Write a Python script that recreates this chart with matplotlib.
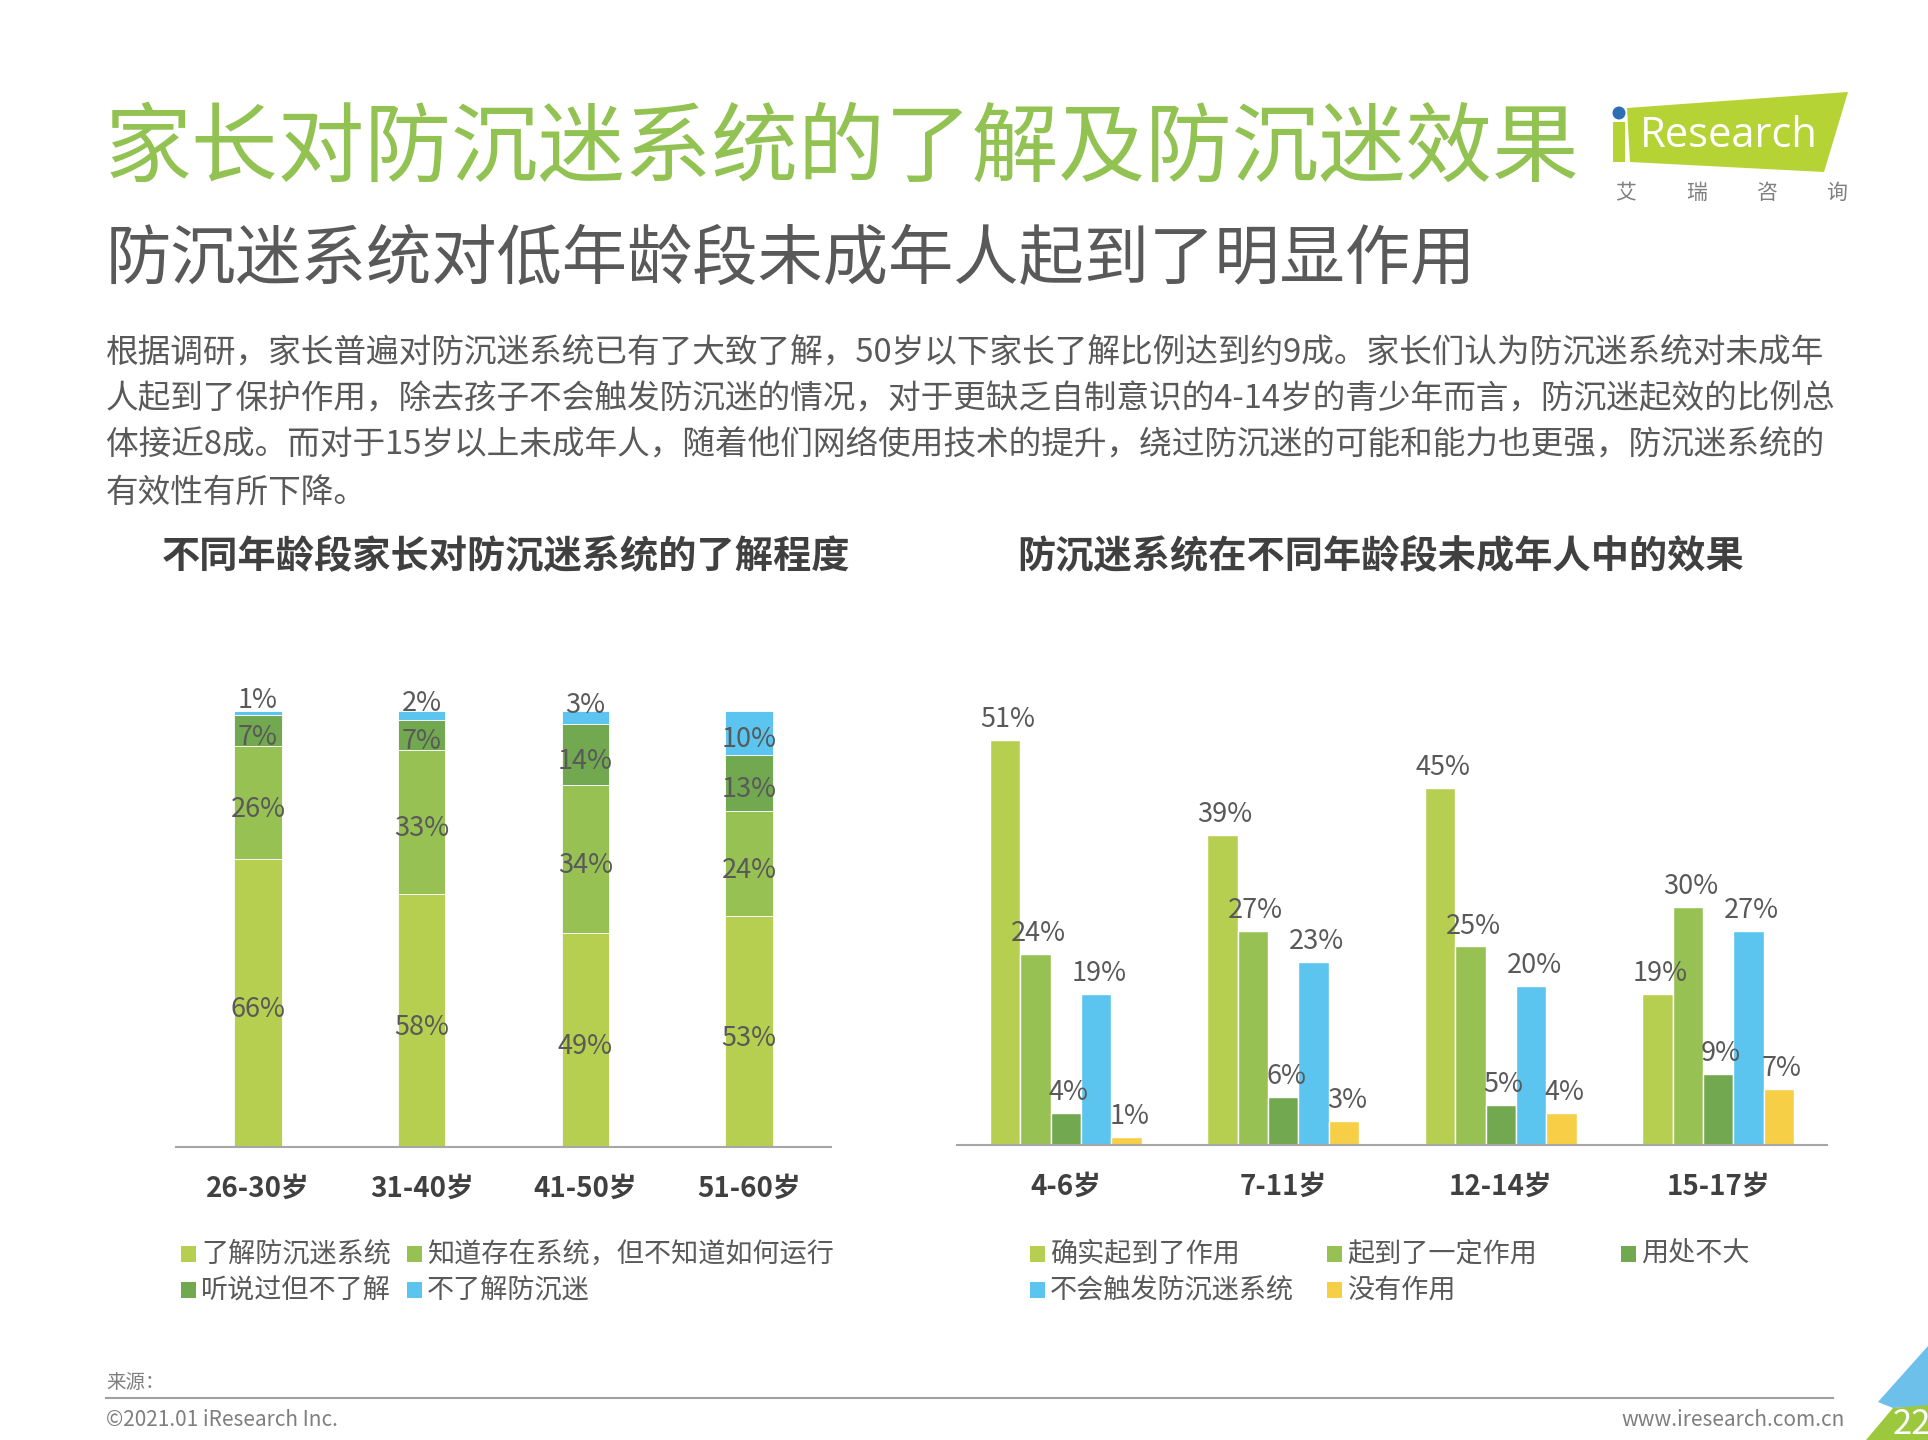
import matplotlib
matplotlib.use('Agg')
import matplotlib.pyplot as plt
import numpy as np
from matplotlib.patches import Polygon, Rectangle, Ellipse
from matplotlib.lines import Line2D

plt.rcParams['font.family'] = ['Noto Sans CJK SC', 'DejaVu Sans']

# ---- data ----
parent_groups = ['26-30岁', '31-40岁', '41-50岁', '51-60岁']
know_well = [66, 58, 49, 53]
know_exists = [26, 33, 34, 24]
heard_only = [7, 7, 14, 13]
not_know = [1, 2, 3, 10]
parent_series = ['了解防沉迷系统', '知道存在系统，但不知道如何运行', '听说过但不了解', '不了解防沉迷']

kid_groups = ['4-6岁', '7-11岁', '12-14岁', '15-17岁']
effective = [51, 39, 45, 19]
some_effect = [24, 27, 25, 30]
little_use = [4, 6, 5, 9]
not_triggered = [19, 23, 20, 27]
no_effect = [1, 3, 4, 7]
kid_series = ['确实起到了作用', '起到了一定作用', '用处不大', '不会触发防沉迷系统', '没有作用']

c_light = '#B7CF50'
c_mid = '#98C154'
c_dark = '#72A850'
c_blue = '#5BC5EF'
c_yellow = '#F7CF46'
txt = '#595959'

W, H = 1928, 1440
fig = plt.figure(figsize=(W / 100, H / 100), dpi=100)


def fx(x):
    return x / W


def fy(y):
    return 1 - y / H


# ---- header ----
fig.text(fx(105), fy(150), '家长对防沉迷系统的了解及防沉迷效果', fontsize=62.5,
         color='#92C352', va='center', ha='left')
fig.text(fx(106), fy(261), '防沉迷系统对低年龄段未成年人起到了明显作用', fontsize=47,
         color=txt, va='center', ha='left')

para = ['根据调研，家长普遍对防沉迷系统已有了大致了解，50岁以下家长了解比例达到约9成。家长们认为防沉迷系统对未成年',
        '人起到了保护作用，除去孩子不会触发防沉迷的情况，对于更缺乏自制意识的4-14岁的青少年而言，防沉迷起效的比例总',
        '体接近8成。而对于15岁以上未成年人，随着他们网络使用技术的提升，绕过防沉迷的可能和能力也更强，防沉迷系统的',
        '有效性有所下降。']
for i, line in enumerate(para):
    fig.text(fx(106), fy(353 + i * 46.5), line, fontsize=23.5, color=txt, va='center', ha='left')

# logo
fig.add_artist(Polygon([(fx(1627), fy(108)), (fx(1848), fy(92)), (fx(1824), fy(172)), (fx(1630), fy(162))],
                       closed=True, transform=fig.transFigure, facecolor='#B5D334', edgecolor='none'))
fig.add_artist(Rectangle((fx(1613), fy(162)), fx(12), 40 / H, transform=fig.transFigure,
                         facecolor='#B5D334', edgecolor='none'))
fig.add_artist(Ellipse((fx(1619), fy(113)), 13 / W, 13 / H, transform=fig.transFigure,
                       facecolor='#2F6DB5', edgecolor='none'))
fig.text(fx(1640), fy(136), 'Research', fontsize=30, color='white', family='Open Sans',
         va='center', ha='left')
for ch, x in zip('艾瑞咨询', [1626, 1697, 1767, 1837]):
    fig.text(fx(x), fy(193), ch, fontsize=15, color='#808080', ha='center', va='center')

# ---- left chart: stacked ----
ax1 = fig.add_axes([fx(176), fy(1147), (831 - 176) / W, (1147 - 711) / H])
x = np.arange(len(parent_groups))
bw = 0.29
bottom = np.zeros(len(x))
for vals, col in zip([know_well, know_exists, heard_only, not_know], [c_light, c_mid, c_dark, c_blue]):
    vals = np.array(vals)
    ax1.bar(x, vals, bw, bottom=bottom, color=col, edgecolor='white', linewidth=0.6)
    for xi, b, v in zip(x, bottom, vals):
        if v < 5:
            yy = b + v / 2 + 2.8
        else:
            yy = b + v / 2 - 1.5
        ax1.text(xi, yy, f'{v}%', ha='center', va='center', fontsize=19.5, color=txt)
    bottom = bottom + vals
ax1.set_xlim(-0.5, 3.5)
ax1.set_ylim(0, 100)

# ---- right chart: grouped ----
ax2 = fig.add_axes([fx(957), fy(1145), (1827 - 957) / W, 405 * 55 / 51 / H])
gw = 0.14
kid_vals = [effective, some_effect, little_use, not_triggered, no_effect]
kid_cols = [c_light, c_mid, c_dark, c_blue, c_yellow]
for k, (vals, col) in enumerate(zip(kid_vals, kid_cols)):
    xs = x + (k - 2) * gw
    ax2.bar(xs, vals, gw, color=col, edgecolor='white', linewidth=1.0)
    for xi, v in zip(xs, vals):
        ax2.annotate(f'{v}%', (xi, v), xytext=(2, 5), textcoords='offset points',
                     ha='center', va='bottom', fontsize=19.5, color=txt)
ax2.set_xlim(-0.5, 3.5)
ax2.set_ylim(0, 55)

for ax, labels in [(ax1, parent_groups), (ax2, kid_groups)]:
    ax.set_xticks(x)
    ax.set_xticklabels(labels, fontsize=20, fontweight='bold', color='#404040')
    ax.tick_params(axis='x', length=0, pad=20)
    ax.set_yticks([])
    for s in ['top', 'left', 'right']:
        ax.spines[s].set_visible(False)
    ax.spines['bottom'].set_color('#A6A6A6')
    ax.spines['bottom'].set_linewidth(1.5)
    ax.patch.set_alpha(0)

fig.text(fx(506), fy(557), '不同年龄段家长对防沉迷系统的了解程度', fontsize=27.5, fontweight='bold',
         color='#404040', ha='center', va='center')
fig.text(fx(1381), fy(557), '防沉迷系统在不同年龄段未成年人中的效果', fontsize=27.5, fontweight='bold',
         color='#404040', ha='center', va='center')

# ---- legends ----
def legend_item(xs, ys, col, label):
    fig.add_artist(Rectangle((fx(xs), fy(ys + 8)), 15 / W, 16 / H, transform=fig.transFigure,
                             facecolor=col, edgecolor='none'))
    fig.text(fx(xs + 20), fy(ys), label, fontsize=19.5, color=txt, ha='left', va='center')


left_pos = [(181, 1254), (407, 1254), (181, 1290), (407, 1290)]
for (lx, ly), col, lab in zip(left_pos, [c_light, c_mid, c_dark, c_blue], parent_series):
    legend_item(lx, ly, col, lab)

right_pos = [(1030, 1254), (1327, 1254), (1621, 1254), (1030, 1290), (1327, 1290)]
for (lx, ly), col, lab in zip(right_pos, kid_cols, kid_series):
    legend_item(lx, ly, col, lab)

# ---- footer ----
fig.text(fx(106), fy(1383), '来源：', fontsize=14, color='#7F7F7F', ha='left', va='center')
fig.add_artist(Line2D([fx(106), fx(1833)], [fy(1398), fy(1398)], transform=fig.transFigure,
                      color='#A0A0A0', linewidth=1.5))
fig.text(fx(106), fy(1420), '©2021.01 iResearch Inc.', fontsize=15, color='#7F7F7F', ha='left', va='center')
fig.text(fx(1845), fy(1420), 'www.iresearch.com.cn', fontsize=15, color='#7F7F7F', ha='right', va='center')

fig.add_artist(Polygon([(fx(1878), fy(1402)), (fx(1928), fy(1346)), (fx(1928), fy(1406)), (fx(1893), fy(1408))],
                       closed=True, transform=fig.transFigure, facecolor='#6CC0EA', edgecolor='none'))
fig.add_artist(Polygon([(fx(1866), fy(1440)), (fx(1893), fy(1408)), (fx(1928), fy(1405)), (fx(1928), fy(1440))],
                       closed=True, transform=fig.transFigure, facecolor='#9CC83E', edgecolor='none'))
fig.text(fx(1893), fy(1424), '22', fontsize=25, color='white', ha='left', va='center')

fig.savefig('out.png', dpi=100)
